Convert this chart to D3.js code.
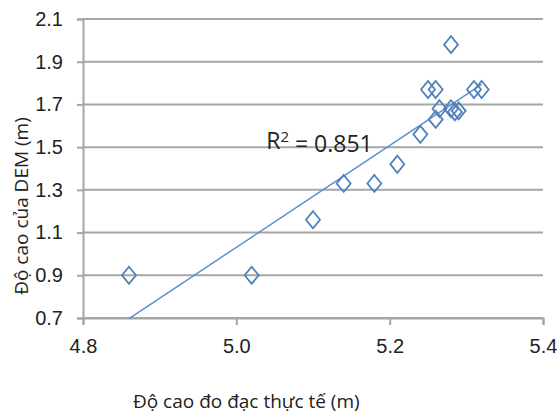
<!DOCTYPE html>
<html>
<head>
<meta charset="utf-8">
<script src="https://cdn.jsdelivr.net/npm/d3@7"></script>
<style>
  html, body { margin: 0; padding: 0; background: #fff; }
  svg { display: block; font-family: "Open Sans", sans-serif; }
</style>
</head>
<body>
<svg id="chart" width="557" height="417"></svg>
<script>
// ─── Data ───
const measured = [4.86, 5.02, 5.10, 5.14, 5.18, 5.21, 5.24, 5.26, 5.28, 5.25, 5.26, 5.31, 5.32, 5.265, 5.28, 5.285, 5.29];
const demHeight = [0.90, 0.90, 1.16, 1.33, 1.33, 1.42, 1.56, 1.63, 1.98, 1.77, 1.77, 1.77, 1.77, 1.68, 1.68, 1.665, 1.67];
const xTicks = [4.8, 5.0, 5.2, 5.4];
const yTicks = [0.7, 0.9, 1.1, 1.3, 1.5, 1.7, 1.9, 2.1];
const r2Label = "0.851";
const xTitle = "Độ cao đo đạc thực tế (m)";
const yTitle = "Độ cao của DEM (m)";

const points = measured.map((x, i) => ({ x, y: demHeight[i] }));

// ─── Layout ───
const margin = { top: 19, right: 14, bottom: 99, left: 83 };
const W = 557, H = 417;
const width = W - margin.left - margin.right;
const height = H - margin.top - margin.bottom;

const gridColor = "#a6a6a6";
const blue = "#4f81bd";
const lineBlue = "#5b8fd0";
const textColor = "#222";

const svg = d3.select("#chart");
const chart = svg.append("g").attr("transform", `translate(${margin.left},${margin.top})`);

const x = d3.scaleLinear().domain([4.8, 5.4]).range([0, width]);
const y = d3.scaleLinear().domain([0.7, 2.1]).range([height, 0]);

// ── Horizontal gridlines ──
chart.append("g")
  .selectAll("line")
  .data(yTicks)
  .join("line")
  .attr("x1", 0)
  .attr("x2", width)
  .attr("y1", (d) => y(d))
  .attr("y2", (d) => y(d))
  .attr("stroke", gridColor)
  .attr("stroke-width", 2);

// ── Y axis ──
const gY = chart.append("g")
  .call(d3.axisLeft(y).tickValues(yTicks).tickFormat(d3.format(".1f")).tickSize(6).tickPadding(14));
gY.select(".domain").attr("stroke", gridColor).attr("stroke-width", 2);
gY.selectAll(".tick line").attr("stroke", gridColor).attr("stroke-width", 2);
gY.selectAll("text")
  .style("font-size", "20px")
  .style("fill", textColor);

// ── X axis ──
const gX = chart.append("g")
  .attr("transform", `translate(0,${height})`)
  .call(d3.axisBottom(x).tickValues(xTicks).tickFormat(d3.format(".1f")).tickSize(7).tickPadding(14));
gX.select(".domain").attr("stroke", gridColor).attr("stroke-width", 2);
gX.selectAll(".tick line").attr("stroke", gridColor).attr("stroke-width", 2);
gX.selectAll("text")
  .style("font-size", "20px")
  .style("fill", textColor);

// ── Linear trendline (least squares over the points) ──
const mx = d3.mean(points, (d) => d.x);
const my = d3.mean(points, (d) => d.y);
const sxy = d3.sum(points, (d) => (d.x - mx) * (d.y - my));
const sxx = d3.sum(points, (d) => (d.x - mx) ** 2);
const slope = sxy / sxx;
const icpt = my - slope * mx;
const [xMin, xMax] = d3.extent(points, (d) => d.x);

chart.append("line")
  .attr("x1", x(xMin))
  .attr("y1", y(icpt + slope * xMin))
  .attr("x2", x(xMax))
  .attr("y2", y(icpt + slope * xMax))
  .attr("stroke", lineBlue)
  .attr("stroke-width", 1.5);

// ── Diamond markers ──
const diamond = "M0,-8.5L7,0L0,8.5L-7,0Z";
chart.append("g")
  .selectAll("path")
  .data(points)
  .join("path")
  .attr("d", diamond)
  .attr("transform", (d) => `translate(${x(d.x)},${y(d.y)})`)
  .attr("fill", "none")
  .attr("stroke", blue)
  .attr("stroke-width", 1.8);

// ── R² label ──
const r2 = chart.append("text")
  .attr("x", x(5.039))
  .attr("y", y(1.5) + 1.5)
  .style("font-size", "23px")
  .style("fill", textColor);
r2.append("tspan").text("R");
r2.append("tspan").attr("dy", "-0.45em").style("font-size", "15px").text("2");
r2.append("tspan").attr("dy", "0.45em").text(" = " + r2Label);

// ── Axis titles ──
svg.append("text")
  .attr("x", margin.left + x(5.013))
  .attr("y", 408)
  .attr("text-anchor", "middle")
  .style("font-size", "19px")
  .style("fill", textColor)
  .text(xTitle);

svg.append("text")
  .attr("transform", "translate(28,206) rotate(-90)")
  .attr("text-anchor", "middle")
  .style("font-size", "19px")
  .style("fill", textColor)
  .text(yTitle);
</script>
</body>
</html>
